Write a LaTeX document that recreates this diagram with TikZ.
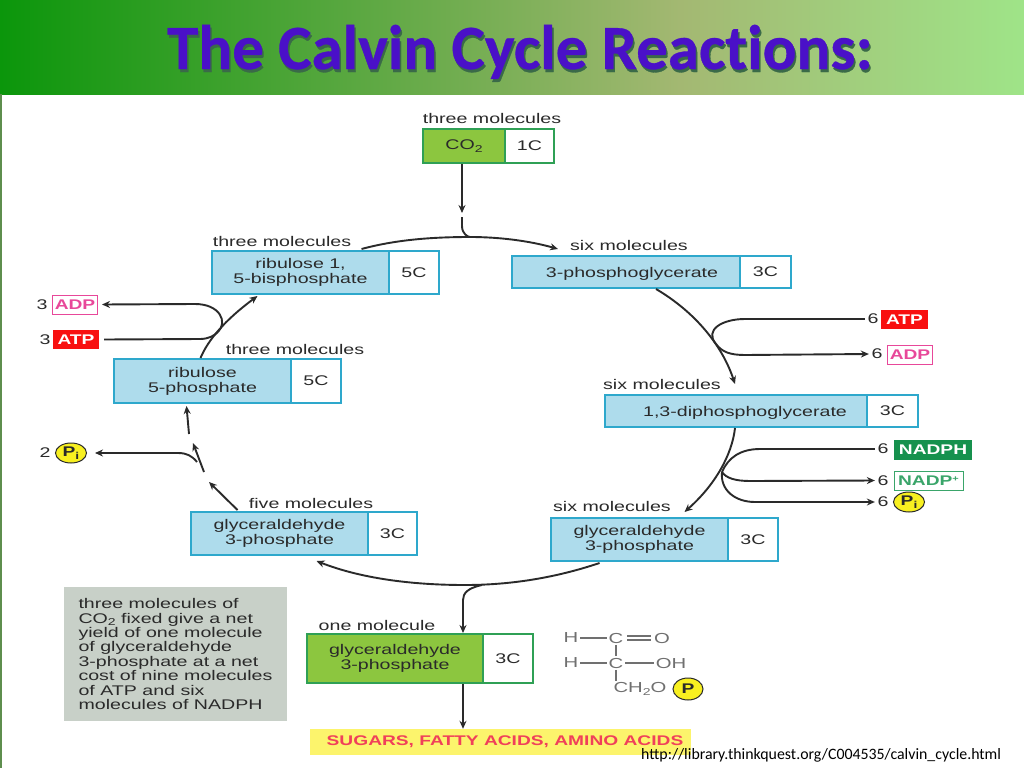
\documentclass[tikz,border=0pt]{standalone}
\usepackage{fontspec}
\usetikzlibrary{arrows.meta,calc,shapes.geometric}
\setmainfont{Liberation Sans}
\newfontfamily\dia[FakeStretch=1.40]{Liberation Sans}
\newfontfamily\diab[FakeStretch=1.37]{Liberation Sans Bold}
\newfontfamily\ttl[Ligatures=NoCommon,FakeBold=0.5]{Carlito Bold}
\newfontfamily\urlf{Carlito}
\definecolor{hdA}{HTML}{0B960B}
\definecolor{hdB}{HTML}{A3B872}
\definecolor{hdC}{HTML}{9FE488}
\definecolor{strip}{HTML}{5E8E4E}
\definecolor{ttlc}{HTML}{4A10C8}
\definecolor{ttls}{HTML}{3A6A48}
\definecolor{inkc}{HTML}{2A2A2A}
\definecolor{bluef}{HTML}{AEDCEC}
\definecolor{blued}{HTML}{2EA8CC}
\definecolor{greenf}{HTML}{8CC63F}
\definecolor{greend}{HTML}{2FA055}
\definecolor{nadph}{HTML}{16914E}
\definecolor{nadp}{HTML}{3AA56A}
\definecolor{atpc}{HTML}{F81010}
\definecolor{adpc}{HTML}{E8489A}
\definecolor{pic}{HTML}{F8F020}
\definecolor{notec}{HTML}{C8D0C8}
\definecolor{bandc}{HTML}{FCF46C}
\definecolor{bandt}{HTML}{F0405A}
\definecolor{chemc}{HTML}{707070}
\newcommand{\txs}{\fontsize{14}{15}\selectfont\dia}
\newcommand{\txb}{\fontsize{14}{15}\selectfont\diab}
\newcommand{\subt}[1]{\raisebox{-2.5pt}{\fontsize{10}{10}\selectfont #1}}
\newcommand{\supt}[1]{\raisebox{4pt}{\fontsize{8}{8}\selectfont #1}}
\tikzset{
  capt/.style={text=inkc,font=\txs,inner sep=0pt},
  numb/.style={text=inkc,font=\txs,inner sep=2.5pt},
  boxl/.style={draw=blued,fill=bluef,line width=2pt,inner sep=0pt,text=inkc,font=\txs,align=center},
  boxr/.style={draw=blued,fill=white,line width=2pt,inner sep=0pt,text=inkc,font=\txs},
  gboxl/.style={boxl,draw=greend,fill=greenf},
  gboxr/.style={boxr,draw=greend},
  tag/.style={inner sep=0pt,font=\txb,minimum height=19pt},
  pcirc/.style={ellipse,draw=inkc,fill=pic,line width=1pt,inner sep=0pt,minimum width=31pt,minimum height=20pt,text=inkc,font=\txb},
  conn/.style={draw=inkc,line width=1.9pt},
  arr/.style={conn,-{Stealth[length=8pt,width=7pt]}},
  chem/.style={text=chemc,font=\fontsize{14.5}{15}\selectfont\dia,inner sep=1.5pt},
  bond/.style={draw=chemc,line width=1.2pt},
}
\begin{document}
\begin{tikzpicture}[x=1pt,y=-1pt]
\useasboundingbox (0,0) rectangle (1024,768);
\fill[white] (0,0) rectangle (1024,768);
\shade[left color=hdA,right color=hdB] (0,0) rectangle (680,94);
\shade[left color=hdB,right color=hdC] (680,0) rectangle (1024,94);
\fill[strip] (0,94) rectangle (1.5,768);
\node[anchor=base,text=ttls,font=\fontsize{63}{63}\selectfont\ttl,inner sep=0pt] (titleS) at (521.5,72) {The Calvin Cycle Reactions:};
\node[anchor=base,text=ttlc,font=\fontsize{63}{63}\selectfont\ttl,inner sep=0pt] (title) at (520,69) {The Calvin Cycle Reactions:};

% boxes
\node[gboxl,minimum width=82,minimum height=34] (co2) at (464,146) {CO\subt{2}};
\node[gboxr,minimum width=49,minimum height=34] (co2c) at (529.5,146) {1C};
\node[boxl,minimum width=177,minimum height=43] (rbp) at (300.5,272.5) {ribulose 1,\\[0pt]5-bisphosphate};
\node[boxr,minimum width=50,minimum height=43] (rbpc) at (414,272.5) {5C};
\node[boxl,minimum width=177,minimum height=44] (rup) at (202.5,381) {ribulose\\[0pt]5-phosphate};
\node[boxr,minimum width=50,minimum height=44] (rupc) at (316,381) {5C};
\node[boxl,minimum width=177,minimum height=43] (gfive) at (279.5,533.5) {glyceraldehyde\\[0pt]3-phosphate};
\node[boxr,minimum width=49,minimum height=43] (gfivec) at (392.5,533.5) {3C};
\node[boxl,minimum width=228,minimum height=32,text depth=0pt] (pga) at (626,272) {\hspace*{12pt}3-phosphoglycerate};
\node[boxr,minimum width=51,minimum height=32] (pgac) at (765.5,272) {3C};
\node[boxl,minimum width=262,minimum height=32,text depth=0pt] (dpg) at (736,411) {\hspace*{18pt}1,3-diphosphoglycerate};
\node[boxr,minimum width=51,minimum height=32] (dpgc) at (892.5,411) {3C};
\node[boxl,minimum width=177,minimum height=43] (gsix) at (639.5,539.5) {glyceraldehyde\\[0pt]3-phosphate};
\node[boxr,minimum width=50,minimum height=43] (gsixc) at (753,539.5) {3C};
\node[gboxl,minimum width=176,minimum height=49] (gone) at (395,658.5) {glyceraldehyde\\[0pt]3-phosphate};
\node[gboxr,minimum width=50,minimum height=49] (gonec) at (508,658.5) {3C};

% captions
\node[capt] (cap1) at (492,118) {three molecules};
\node[capt] (cap2) at (282,241) {three molecules};
\node[capt] (cap3) at (295,349) {three molecules};
\node[capt] (cap4) at (311,503) {five molecules};
\node[capt] (cap5) at (629,245) {six molecules};
\node[capt] (cap6) at (662,384) {six molecules};
\node[capt] (cap7) at (612,506) {six molecules};
\node[capt] (cap8) at (377,625) {one molecule};

% side tags, left
\node[tag,draw=adpc,fill=white,line width=1pt,text=adpc,minimum width=45] (adpL) at (75,304.5) {ADP};
\node[numb] (nadpL) at (42,304.5) {3};
\node[tag,fill=atpc,text=white,minimum width=46] (atpL) at (76,339.5) {ATP};
\node[numb] (natpL) at (45,339.5) {3};
\node[pcirc] (piL) at (71,453) {P\subt{i}};
\node[numb] (npiL) at (45,453) {2};
% side tags, right
\node[tag,fill=atpc,text=white,minimum width=47] (atpR) at (904.5,319.5) {ATP};
\node[numb] (natpR) at (873,319) {6};
\node[tag,draw=adpc,fill=white,line width=1pt,text=adpc,minimum width=45] (adpR) at (910,354.5) {ADP};
\node[numb] (nadpR) at (877,354) {6};
\node[tag,fill=nadph,text=white,minimum width=78,minimum height=20] (nadphR) at (933,450) {NADPH};
\node[numb] (nnadphR) at (883,449) {6};
\node[tag,draw=nadp,fill=white,line width=1pt,text=nadp,minimum width=69] (nadpT) at (928.5,480.5) {NADP\supt{+}};
\node[numb] (nnadpT) at (883,480.5) {6};
\node[pcirc] (piR) at (909,502) {P\subt{i}};
\node[numb] (npiR) at (883,502) {6};

% note and end product
\node[fill=notec,minimum width=223,minimum height=134,inner sep=0pt,text=inkc,align=left,font=\fontsize{14}{14.4}\selectfont\dia] (note) at (175.5,654)
 {three molecules of\\CO\subt{2} fixed give a net\\yield of one molecule\\of glyceraldehyde\\3-phosphate at a net\\cost of nine molecules\\of ATP and six\\molecules of NADPH};
\node[fill=bandc,minimum width=381,minimum height=26,inner sep=0pt,text=bandt,font=\txb] (band) at (500.5,742) {\hspace*{9pt}SUGARS, FATTY ACIDS, AMINO ACIDS};
\node[anchor=west,inner sep=0pt,font=\fontsize{15.85}{16}\selectfont\urlf,text=black] (url) at (641,755) {http://library.thinkquest.org/C004535/calvin\_cycle.html};

% formula
\node[chem] (h1) at (571,638) {H};
\node[chem] (c1) at (616,638) {C};
\node[chem] (o1) at (662,638) {O};
\node[chem] (h2) at (571,663) {H};
\node[chem] (c2) at (616,663) {C};
\node[chem] (oh) at (671,663) {OH};
\node[chem] (ch) at (640,689) {CH\subt{2}O};
\node[pcirc,minimum width=30pt,minimum height=22pt] (pch) at (688,689) {P};
\draw[bond] (h1) -- (c1);
\draw[bond] ($(c1.east)+(2,-2)$) -- ($(o1.west)+(-1,-2)$);
\draw[bond] ($(c1.east)+(2,2)$) -- ($(o1.west)+(-1,2)$);
\draw[bond] (h2) -- (c2);
\draw[bond] (c2) -- (oh);
\draw[bond] (c1) -- (c2);
\draw[bond] (c2) -- (c2 |- ch.north);

% cycle waypoints
\coordinate (topM) at (470,237);
\coordinate (gapC) at (462,217);
\coordinate (botM) at (465,585);
\coordinate (brR1) at (716,344);
\coordinate (brR2) at (722,472);
\coordinate (brL) at (197,462);
\coordinate (stA) at (204,472);
\coordinate (stB) at (209,482);
\coordinate (stC) at (189,434);
\coordinate (stD) at (193,443);
\coordinate (brT) at (218,332);
\coordinate (dnX) at (463,600);

% connectors
\draw[arr] (co2.south -| gapC) -- ($(gapC)+(0,-4)$);
\draw[conn] (gapC) -- (462,226) .. controls (462,234) and (468,237) .. (topM);
\draw[arr] ($(rbp.north)+(61,-1)$) .. controls (395,240) and (430,237) .. (topM) .. controls (500,237) and (530,241) .. ($(pga.north)+(-68,-6)$);
\draw[arr] ($(pga.south)+(30,0)$) .. controls (695,312) and (722,345) .. ($(dpg.north)+(-1,-10)$);
\draw[conn] (natpR.west) -- (745,319) .. controls (722,319) and (704,330) .. (brR1);
\draw[arr] (brR1) .. controls (722,352) and (730,355) .. (745,355) -- (nadpR.west);
\draw[arr] ($(dpg.south)+(-1,0)$) .. controls (732,455) and (715,485) .. ($(gsix.north)+(45,-5)$);
\draw[conn] (nnadphR.west) -- (760,449) .. controls (740,449) and (728,458) .. (brR2);
\draw[arr] (brR2) .. controls (726,478) and (735,481) .. (750,481) -- (nnadpT.west);
\draw[arr] (brR2) .. controls (720,490) and (735,502) .. (755,502) -- (npiR.west);
\draw[arr] ($(gsix.south)+(-40,1)$) .. controls (555,578) and (510,585) .. (botM) .. controls (410,585) and (360,578) .. ($(gfive.south)+(37,5)$);
\draw[arr] (482,585) .. controls (468,588) and (463,593) .. (dnX) -- (gone.north -| dnX);
\draw[arr] (gone.south -| dnX) -- (band.north -| dnX);
\draw[arr] ($(gfive.north)+(-42,-1)$) -- (stB);
\draw[arr] (stA) -- (stD);
\draw[arr] (stC) -- ($(rup.south)+(-16,2)$);
\draw[arr] (brL) .. controls (192,456) and (187,453) .. (178,453) -- ($(piL.east)+(8,0)$);
\draw[arr] ($(rup.north)+(-2,0)$) .. controls (208,340) and (225,320) .. ($(rbp.south)+(-43,1)$);
\draw[conn] ($(atpL.east)+(5,0)$) -- (200,339) .. controls (208,339) and (214,336) .. (brT);
\draw[arr] (brT) .. controls (228,322) and (220,304) .. (195,304) -- ($(adpL.east)+(4,0)$);
\end{tikzpicture}
\end{document}
